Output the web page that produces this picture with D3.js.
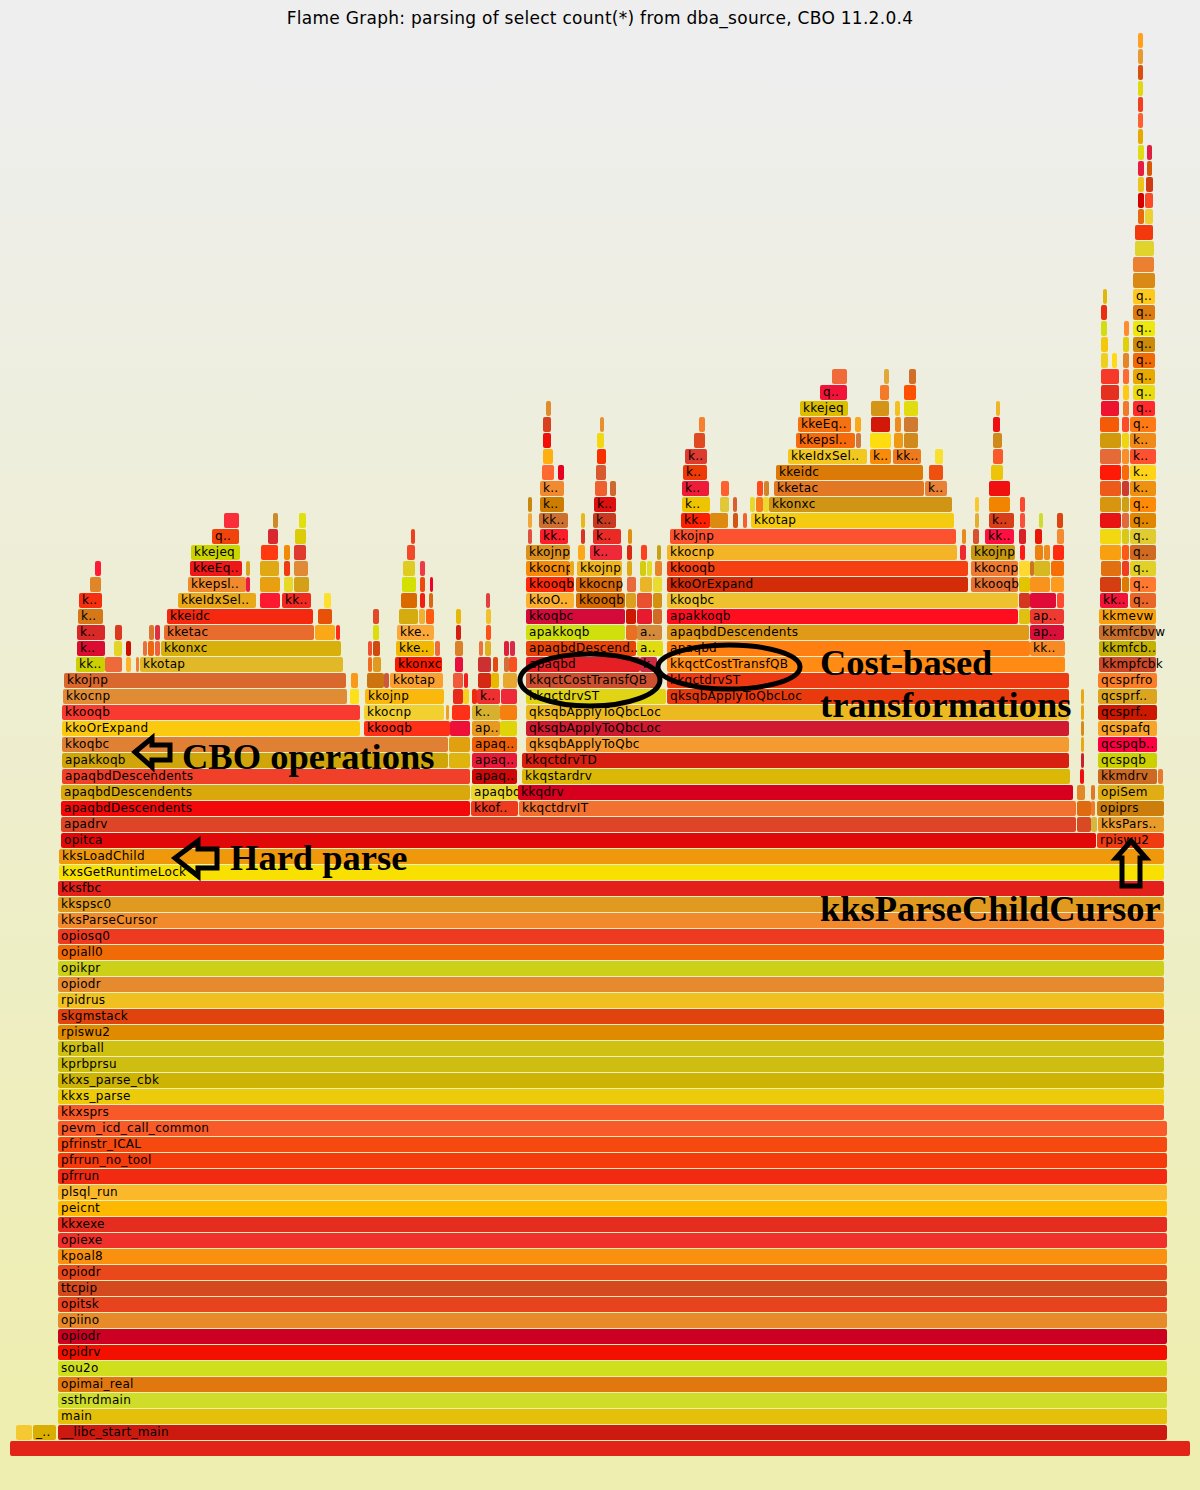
<!DOCTYPE html>
<html><head><meta charset="utf-8">
<script src="https://cdn.jsdelivr.net/npm/d3@7"></script>
<style>html,body{margin:0;padding:0;background:#eeeeb0}svg{display:block}</style>
</head><body><div id="chart"></div>
<script>
// Total on-CPU samples across the root frame
const totalSamples = 1180;
// Lowest stack frames: [name, firstSample, samples]; index = stack depth
const baseFrames = [
 [["",0,1180]],
 [["",6,16],["_..",23,23],["__libc_start_main",48,1109]],
 [["main",48,1109]],[["ssthrdmain",48,1109]],[["opimai_real",48,1109]],[["sou2o",48,1109]],
 [["opidrv",48,1109]],[["opiodr",48,1109]],[["opiino",48,1109]],[["opitsk",48,1109]],
 [["ttcpip",48,1109]],[["opiodr",48,1109]],[["kpoal8",48,1109]],[["opiexe",48,1109]],
 [["kkxexe",48,1109]],[["peicnt",48,1109]],[["plsql_run",48,1109]],[["pfrrun",48,1109]],
 [["pfrrun_no_tool",48,1109]],[["pfrinstr_ICAL",48,1109]],[["pevm_icd_call_common",48,1109]],
 [["kkxsprs",48,1106]],[["kkxs_parse",48,1106]],[["kkxs_parse_cbk",48,1106]],[["kprbprsu",48,1106]],
 [["kprball",48,1106]],[["rpiswu2",48,1106]],[["skgmstack",48,1106]],[["rpidrus",48,1106]],
 [["opiodr",48,1106]],[["opikpr",48,1106]],[["opiall0",48,1106]],[["opiosq0",48,1106]],
 [["kksParseCursor",48,1106]],[["kkspsc0",48,1106]],[["kksfbc",48,1106]],
 [["kxsGetRuntimeLock",49,1105]],[["kksLoadChild",49,1105]]
];
const baseColors = ["#e2231a",null,"#e3c10a","#cfdc2a","#e0780f","#cfdf1e","#f31000","#cc0022","#e68a2a","#e8431f",
 "#d44a1e","#e8481a","#f99010","#f0302a","#e42d1e","#ffb800","#fbb82a","#f22a12","#f53a0c","#f5490f","#f85a2a",
 "#f75a28","#eccc0a","#cdb404","#cfbe12","#d0c012","#e08a00","#e0430e","#f0c020","#e68a30","#ccd018","#f06a08",
 "#ee3a20","#f08a2a","#e09a20","#e4201a","#f8e000","#f0980c"];
const libcColors = ["#f5c932","#d9ae00","#cc1a10"];
// Upper frames, from depth 38 upward
const upperFrames = [
 /*38*/[["opitca",51,1035],["rpiswu2",1087,67]],
 /*39*/[["apadrv",51,1015],["",1067,14],["",1081,6],["kksPars..",1088,66]],
 /*40*/[["apaqbdDescendents",51,409],["kkof..",461,47],["kkqctdrvIT",509,557],["",1067,14],["",1081,4],["opiprs",1087,67]],
 /*41*/[["apaqbdDescendents",51,409],["apaqbd",461,47],["kkqdrv",508,555],["",1067,8],["",1081,4],["opiSem",1088,66]],
 /*42*/[["apaqbdDescendents",52,408],["apaq..",462,45],["kkqstardrv",512,548],["",1070,4],["kkmdrv",1088,59],["",1148,5]],
 /*43*/[["apakkoqb",52,386],["",439,21],["apaq..",462,45],["kkqctdrvTD",512,547],["",1071,3],["qcspqb",1088,59]],
 /*44*/[["kkoqbc",52,386],["",439,21],["apaq..",462,45],["qksqbApplyToQbc",516,543],["",1071,3],["qcspqb..",1088,59]],
 /*45*/[["kkoOrExpand",52,298],["kkooqb",354,86],["",440,20],["ap..",462,28],["",490,17],["qksqbApplyToQbcLoc",516,543],["",1071,3],["qcspafq",1088,59]],
 /*46*/[["kkooqb",52,298],["kkocnp",354,80],["",436,3],["",442,18],["k..",462,28],["",490,17],["qksqbApplyToQbcLoc",516,543],["",1071,3],["qcsprf..",1088,59]],
 /*47*/[["kkocnp",53,284],["",340,9],["kkojnp",355,79],["",443,10],["",453,6],["",462,5],["k..",467,23],["",491,16],["kkqctdrvST",516,140],["qksqbApplyToQbcLoc",657,402],["",1071,3],["qcsprf..",1088,59]],
 /*48*/[["kkojnp",54,282],["",341,7],["",357,17],["",374,5],["kkotap",380,53],["",443,10],["",454,4],["",468,13],["",481,8],["",493,14],["kkqctCostTransfQB",516,134],["kkqctdrvST",657,402],["qcsprfro",1088,59]],
 /*49*/[["kk..",66,29],["",95,17],["",116,5],["",126,3],["kkotap",130,203],["",358,4],["",363,8],["kkonxc",385,47],["",445,8],["",468,13],["",483,5],["",494,5],["",499,8],["apaqbd",516,114],["k..",630,17],["kkqctCostTransfQB",657,398],["kkmpfcbk",1089,57]],
 /*50*/[["k..",67,28],["",104,8],["",116,5],["",133,4],["",138,6],["",145,5],["kkonxc",151,180],["",358,4],["",363,7],["kke..",386,38],["",425,5],["",445,8],["",469,4],["",475,6],["",494,5],["",500,5],["apaqbdDescend..",516,110],["a..",627,26],["apaqbd",657,363],["kk..",1020,35],["kkmfcb..",1089,57]],
 /*51*/[["k..",67,28],["",105,7],["",139,5],["",145,5],["kketac",154,150],["",305,20],["",326,4],["",363,6],["kke..",387,37],["",446,5],["",476,5],["apakkoqb",516,99],["",616,11],["a..",627,25],["apaqbdDescendents",657,362],["ap..",1020,34],["kkmfcbvw",1089,57]],
 /*52*/[["k..",68,25],["kkeidc",157,146],["",308,14],["",363,6],["",389,19],["",409,6],["",416,8],["",446,5],["",476,5],["kkoqbc",516,99],["",616,10],["",627,15],["",643,9],["apakkoqb",657,351],["",1009,11],["ap..",1020,34],["kkmevw",1089,57]],
 /*53*/[["k..",69,23],["kkeIdxSel..",168,78],["",250,20],["kk..",272,29],["",314,7],["",391,16],["",410,5],["",419,4],["",476,4],["kkoO..",516,48],["kkooqb",566,49],["",616,10],["",627,15],["",643,9],["kkoqbc",657,351],["",1009,11],["",1020,26],["",1047,7],["kk..",1090,28],["q..",1120,26]],
 /*54*/[["",80,11],["kkepsl..",178,58],["",236,4],["",250,20],["",274,9],["",284,15],["",392,14],["",410,5],["",420,3],["kkooqb",516,48],["kkocnp",566,46],["",617,9],["",630,12],["",643,9],["kkoOrExpand",657,301],["kkooqb",961,47],["",1009,11],["",1020,20],["",1041,13],["",1090,21],["",1112,7],["q..",1120,26]],
 /*55*/[["",85,6],["kkeEq..",180,52],["",236,4],["",250,19],["",274,6],["",284,14],["",393,12],["",410,5],["kkocnp",516,44],["",560,4],["kkojnp",567,45],["",617,5],["",630,6],["",637,5],["",645,7],["kkooqb",657,301],["kkocnp",961,47],["",1009,11],["",1020,4],["",1024,16],["",1041,13],["",1091,20],["",1112,7],["q..",1120,26]],
 /*56*/[["kkejeq",181,49],["",251,17],["",274,6],["",284,12],["",397,8],["kkojnp",516,44],["",568,7],["k..",580,32],["",617,5],["",631,6],["",647,4],["kkocnp",657,290],["",950,6],["kkojnp",961,44],["",1010,5],["",1025,8],["",1034,6],["",1043,11],["",1090,21],["",1112,7],["q..",1120,26]],
 /*57*/[["q..",202,27],["",258,10],["",285,11],["",401,4],["",518,4],["kk..",530,28],["",571,4],["k..",583,28],["",618,4],["kkojnp",660,286],["",952,4],["",963,6],["kk..",975,29],["",1009,7],["",1025,7],["",1047,7],["",1090,21],["",1112,7],["q..",1120,26]],
 /*58*/[["",214,15],["",263,5],["",289,7],["",518,4],["kk..",529,29],["",571,4],["k..",583,23],["kk..",671,29],["",700,18],["",723,5],["",733,4],["kkotap",741,203],["",965,4],["k..",979,25],["",1010,5],["",1029,4],["",1047,6],["",1090,21],["",1112,7],["q..",1120,26]],
 /*59*/[["",518,4],["k..",530,24],["k..",584,22],["k..",672,28],["",710,9],["",723,4],["",740,5],["",746,7],["",753,6],["kkonxc",759,183],["",965,4],["",979,21],["",1010,5],["",1090,21],["",1112,7],["q..",1120,26]],
 /*60*/[["k..",530,24],["",585,12],["",600,6],["k..",672,27],["",711,8],["",747,6],["",754,5],["kketac",764,150],["k..",915,22],["",979,21],["",1090,21],["",1112,7],["k..",1120,26]],
 /*61*/[["",532,12],["",548,6],["",586,10],["k..",673,24],["kkeidc",766,147],["",919,14],["",981,12],["",1090,21],["",1112,7],["k..",1120,26]],
 /*62*/[["",533,10],["",587,9],["k..",675,22],["kkeIdxSel..",778,79],["k..",860,21],["kk..",883,28],["",925,8],["",983,10],["",1090,21],["",1112,7],["k..",1120,26]],
 /*63*/[["",533,8],["",587,7],["",684,11],["kkepsl..",786,59],["",846,5],["",860,21],["",884,9],["",894,14],["",983,9],["",1090,21],["",1112,7],["k..",1120,26]],
 /*64*/[["",533,8],["",590,4],["",689,6],["kkeEq..",788,53],["",845,6],["",861,19],["",885,6],["",894,14],["",983,7],["",1090,19],["",1112,7],["q..",1120,26]],
 /*65*/[["",536,5],["kkejeq",790,48],["",861,18],["",885,5],["",894,14],["",986,4],["",1091,18],["",1113,6],["q..",1123,22]],
 /*66*/[["q..",810,27],["",870,9],["",894,12],["",1091,18],["",1113,6],["q..",1123,22]],
 /*67*/[["",822,15],["",874,5],["",899,7],["",1091,18],["",1113,6],["q..",1123,22]],
 /*68*/[["",1091,7],["",1102,5],["",1113,6],["q..",1123,22]],
 /*69*/[["",1091,7],["",1113,6],["q..",1123,22]],
 /*70*/[["",1091,6],["",1114,5],["q..",1123,22]],
 /*71*/[["",1091,6],["q..",1123,22]],
 /*72*/[["",1093,4],["q..",1123,22]],
 /*73*/[["",1123,22]],/*74*/[["",1123,21]],/*75*/[["",1125,19]],/*76*/[["",1125,18]],
 /*77*/[["",1128,6],["",1135,8]],/*78*/[["",1128,6],["",1135,8]],/*79*/[["",1128,6],["",1136,7]],
 /*80*/[["",1128,6],["",1137,5]],/*81*/[["",1128,6],["",1137,5]],
 /*82*/[["",1128,5]],/*83*/[["",1128,5]],/*84*/[["",1128,5]],/*85*/[["",1128,5]],/*86*/[["",1128,5]],/*87*/[["",1128,5]],/*88*/[["",1128,5]]
];
const upperColors = [
 /*38*/["#e00808","#f03a12"],
 /*39*/["#dd4526","#d84a24","#d4b840","#e89a2a"],
 /*40*/["#f20a0a","#ee3a1e","#f27030","#e06a12","#ee7a2a","#cc7e0c"],
 /*41*/["#d8a80c","#ecd82c","#d6001e","#e0882a","#e07a2a","#e0ae14"],
 /*42*/["#f0402a","#cc0808","#dcb806","#ee1010","#cc6a24","#e87a30"],
 /*43*/["#cfa50a","#dfb40e","#e81a3a","#d82010","#cc2030","#ccd000"],
 /*44*/["#e08035","#e0a010","#ee6008","#f49a30","#e8a818","#ff0040"],
 /*45*/["#fbc90e","#ff3018","#ee1038","#e89a20","#e0d408","#d01a30","#d88a1c","#f8a428"],
 /*46*/["#f93a30","#f2d030","#f0a020","#ff3018","#d8b030","#f58010","#ecba20","#e8a818","#cc1800"],
 /*47*/["#e08c35","#fbe01a","#fbb80c","#e82a1a","#f8d020","#ee2a0c","#ee3030","#ee2a38","#e0d414","#e83a0c","#e8a818","#dca520"],
 /*48*/["#d8682e","#f89a18","#cc7510","#cc5a3a","#fba030","#ee5a3a","#ee2020","#d42a14","#e8b800","#e8a830","#cc5030","#ee3a12","#fa7f28"],
 /*49*/["#ccd000","#ee6a3a","#ffb428","#ee8030","#e0b828","#f06a20","#e09a20","#fa1a00","#e8103a","#cc3030","#e04a10","#d07038","#f85020","#e42024","#cc2a40","#ff8a14","#cc4a2a"],
 /*50*/["#dc0c30","#e4d428","#cc1000","#e8703a","#ee6610","#f0603a","#d8b00c","#ee5030","#d04a10","#f0b800","#ee6a3a","#dc8028","#f0703a","#e0b020","#e0203a","#d82a4a","#e84408","#e0dc10","#ff8010","#f78a24","#c4b000"],
 /*51*/["#d82828","#dc3a20","#dc7530","#e03040","#e86c2e","#fba818","#ff2a18","#dddc10","#fca838","#d42010","#ff5018","#d0e00c","#e87020","#d48a3a","#e09a18","#d8103a","#c87030"],
 /*52*/["#d47818","#f52810","#e85208","#e04a28","#d4ac10","#f0b030","#ff5a10","#e8b808","#f0c030","#d40a3a","#cc1800","#e81a30","#d06a24","#ff0e20","#e0c010","#ee3a30","#f8a010"],
 /*53*/["#f53010","#e8a818","#fd1a30","#f02a20","#fce030","#d86a00","#f02010","#d86814","#e04040","#fbb030","#d46a00","#dca020","#e85030","#d49010","#eec22e","#d4381e","#e00a38","#ff4a30","#f01438","#e86628"],
 /*54*/["#e08528","#f08a2c","#ee1840","#e8a010","#e8d828","#d4a018","#d4e000","#ee4a10","#f0002a","#ff2a0a","#d86a0a","#e86a3a","#e8b428","#e8dc30","#d22c08","#e87030","#e4c400","#f8931e","#ff9a20","#d43e10","#dd7a00","#ff7a30"],
 /*55*/["#ff1a38","#ee1818","#d8a41e","#e0a812","#f03a10","#e08a38","#e0cc20","#ee3a48","#f58a08","#e8a820","#f0b41c","#e0a814","#d4cc10","#e0dc20","#e8842a","#f54012","#f07a30","#ffd830","#cc7520","#d8b820","#f56f05","#e07010","#f03c20","#e0d028"],
 /*56*/["#ccd400","#ff3a10","#f08a08","#e03a30","#f04a28","#dc9020","#fca818","#ee2a38","#d82a10","#ff4020","#c8a018","#f4b428","#ee2a30","#c89810","#ff1a1a","#ee8010","#ee8a20","#ff2a10","#f8a010","#fc5a14","#d06a20"],
 /*57*/["#f0440c","#d82830","#dccc08","#ee4020","#e05040","#fa1f2a","#d83428","#ea2a24","#e09010","#fc5230","#e88a20","#d85030","#ff1040","#d82028","#e81808","#f58a30","#f2d810","#d8c818","#e0cc30"],
 /*58*/["#fa2e38","#cc8a28","#e0e010","#f0a83a","#cc7030","#e8b818","#c83a20","#fc2000","#dd8a10","#d25518","#f06030","#f5cb12","#e0b030","#d83e18","#f8503a","#cedc30","#dc4412","#e81414","#e06a3a","#e08600"],
 /*59*/["#c88810","#cc7c00","#dd1010","#eec400","#e0c838","#d86030","#e8d82a","#f87a1a","#ecd830","#d09515","#f8c830","#f28500","#f84a30","#d89510","#d0a014","#ff8a08"],
 /*60*/["#f08a30","#ee6030","#cc6830","#ee1c38","#ff6030","#ff4a20","#d0852a","#e27824","#e88035","#f01010","#ee5a1a","#cc3a30","#ee9010"],
 /*61*/["#ff6830","#e80020","#d85830","#ee3a06","#dc7a08","#ee5010","#eec408","#ff1a08","#f86a0a","#ffd418"],
 /*62*/["#ffb010","#f83000","#dd3a30","#f2c820","#f88c08","#ef7a1c","#f8e030","#fa5a2a","#e46a38","#f8902a","#ff5030"],
 /*63*/["#f01008","#f2d810","#e04a20","#f56a0a","#cc7a40","#fedd10","#f09a14","#d08a1c","#d08a1c","#d09a0c","#f0d410","#f08a18"],
 /*64*/["#d84020","#e89030","#f48030","#f57010","#f8a818","#d21808","#ee8a20","#cf7a30","#ee1010","#f55a08","#ff4a28","#ff7a14"],
 /*65*/["#e08c2a","#dcbe00","#d49416","#f4c020","#e0dc10","#f0b428","#ee1430","#f07a2a","#ff2a2a"],
 /*66*/["#f21438","#f47a2a","#ff5000","#e4301e","#ffc814","#e8dc10"],
 /*67*/["#f06a3a","#e0a838","#d07028","#f53a2a","#ff6a30","#e8a800"],
 /*68*/["#ecd020","#ffd818","#e68428","#f26a06"],
 /*69*/["#f4c80c","#e0d00c","#cc8a08"],
 /*70*/["#d4dc14","#ff8c30","#ece80e"],
 /*71*/["#e83010","#dc7c10"],
 /*72*/["#e0b808","#ffc81c"],
 /*73*/["#d88a14"],/*74*/["#ea8030"],/*75*/["#e0d42c"],/*76*/["#f4380e"],
 /*77*/["#e86a0c","#eed030"],/*78*/["#d40000","#fc4a28"],/*79*/["#ecc41c","#cf3a12"],
 /*80*/["#e81c40","#d85a08"],/*81*/["#e0dc14","#e02040"],
 /*82*/["#e8a800"],/*83*/["#ff6030"],/*84*/["#f04020"],/*85*/["#e0d810"],/*86*/["#d8500e"],/*87*/["#e89a30"],/*88*/["#ffa020"]
];
const chartTitle = "Flame Graph: parsing of select count(*) from dba_source, CBO 11.2.0.4";
const notes = [
 {text:"CBO operations",x:182,y:769},
 {text:"Hard parse",x:230,y:870},
 {text:"Cost-based",x:820,y:675},
 {text:"transformations",x:820,y:717},
 {text:"kksParseChildCursor",x:820,y:921}
];

const W=1200,H=1490;
const svg=d3.select("#chart").append("svg").attr("width",W).attr("height",H).attr("viewBox",`0 0 ${W} ${H}`);
const defs=svg.append("defs");
const grad=defs.append("linearGradient").attr("id","bg").attr("x1","0").attr("y1","0").attr("x2","0").attr("y2","1");
grad.append("stop").attr("offset","5%").attr("stop-color","#eeeeee");
grad.append("stop").attr("offset","95%").attr("stop-color","#eeeeb0");
svg.append("rect").attr("width",W).attr("height",H).attr("fill","url(#bg)");
svg.append("text").attr("x",W/2).attr("y",24).attr("text-anchor","middle")
 .attr("font-family","'DejaVu Sans',Verdana,sans-serif").attr("font-size",17).attr("letter-spacing",0.28).attr("fill","#000").text(chartTitle);

const x=d3.scaleLinear().domain([0,totalSamples]).range([10,1190]);
const maxDepth=baseFrames.length+upperFrames.length-1;
const y=d3.scaleLinear().domain([0,maxDepth]).range([1441,1441-16*maxDepth]);

const allLevels=baseFrames.concat(upperFrames);
const allColors=baseColors.map((c,i)=>i===1?libcColors:[c]).concat(upperColors);
const flat=[];
allLevels.forEach((lvl,d)=>lvl.forEach((f,j)=>flat.push({depth:d,name:f[0],start:f[1],n:f[2],color:allColors[d][j]||"#e8a020"})));

const g=svg.append("g").attr("font-family","'DejaVu Sans',Verdana,sans-serif").attr("font-size",12).attr("letter-spacing",0.3);
const cell=g.selectAll("g.f").data(flat).join("g").attr("class","f");
cell.append("rect").attr("x",d=>x(d.start)).attr("y",d=>y(d.depth))
 .attr("width",d=>x(d.start+d.n)-x(d.start)).attr("height",15).attr("rx",2).attr("ry",2).attr("fill",d=>d.color);
cell.filter(d=>d.name).append("text").attr("x",d=>x(d.start)+3).attr("y",d=>y(d.depth)+10.5).attr("fill","#000").text(d=>d.name);

// Hand-drawn annotations over the graph
const ann=svg.append("g");
ann.selectAll("text").data(notes).join("text").attr("x",d=>d.x).attr("y",d=>d.y)
 .attr("font-family","'Liberation Serif','Times New Roman',serif").attr("font-weight","bold").attr("font-size",36.5).attr("fill","#000").text(d=>d.text);
ann.append("ellipse").attr("cx",590).attr("cy",680).attr("rx",70).attr("ry",26).attr("fill","none").attr("stroke","#000").attr("stroke-width",5);
ann.append("ellipse").attr("cx",729).attr("cy",667).attr("rx",71).attr("ry",22).attr("fill","none").attr("stroke","#000").attr("stroke-width",5);
const arrow=(pts)=>ann.append("polygon").attr("points",pts.map(p=>p.join(",")).join(" ")).attr("fill","none").attr("stroke","#000").attr("stroke-width",5);
arrow([[135,752],[152,738],[152,745],[170,745],[170,760],[152,760],[152,767]]);
arrow([[175,858],[198,841],[198,849],[217,849],[217,868],[198,868],[198,876]]);
arrow([[1131,841],[1146,858],[1140,858],[1140,886],[1122,886],[1122,858],[1116,858]]);
</script></body></html>
